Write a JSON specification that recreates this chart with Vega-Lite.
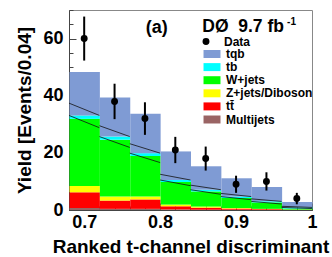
{
 "$schema": "https://vega.github.io/schema/vega-lite/v6.json",
 "width": 243, "height": 200,
 "autosize": "none",
 "padding": {"left": 69, "top": 10, "right": 20, "bottom": 47},
 "background": "white",
 "config": {
  "view": {"stroke": "#888", "strokeWidth": 1},
  "font": "Liberation Sans",
  "axis": {"labelFont": "Liberation Sans", "labelFontWeight": "bold", "labelFontSize": 18, "labelColor": "black",
           "titleFont": "Liberation Sans", "titleFontWeight": "bold", "titleFontSize": 19, "titleColor": "black",
           "grid": false, "domainColor": "#444", "tickColor": "#444", "labelFlush": false}
 },
 "datasets": {
  "bkg": [
   {"x0": 0.68, "x1": 0.72, "process": "Multijets", "n": 0.7},
   {"x0": 0.68, "x1": 0.72, "process": "tt\u0304", "n": 5.5},
   {"x0": 0.68, "x1": 0.72, "process": "Z+jets/Diboson", "n": 2.2},
   {"x0": 0.68, "x1": 0.72, "process": "W+jets", "n": 23.5},
   {"x0": 0.68, "x1": 0.72, "process": "tb", "n": 1.2},
   {"x0": 0.68, "x1": 0.72, "process": "tqb", "n": 15.2},
   {"x0": 0.72, "x1": 0.76, "process": "Multijets", "n": 0.4},
   {"x0": 0.72, "x1": 0.76, "process": "tt\u0304", "n": 2.9},
   {"x0": 0.72, "x1": 0.76, "process": "Z+jets/Diboson", "n": 1.4},
   {"x0": 0.72, "x1": 0.76, "process": "W+jets", "n": 19.9},
   {"x0": 0.72, "x1": 0.76, "process": "tb", "n": 1.1},
   {"x0": 0.72, "x1": 0.76, "process": "tqb", "n": 13.7},
   {"x0": 0.76, "x1": 0.80, "process": "Multijets", "n": 0.4},
   {"x0": 0.76, "x1": 0.80, "process": "tt\u0304", "n": 3.3},
   {"x0": 0.76, "x1": 0.80, "process": "Z+jets/Diboson", "n": 1.0},
   {"x0": 0.76, "x1": 0.80, "process": "W+jets", "n": 14.2},
   {"x0": 0.76, "x1": 0.80, "process": "tb", "n": 1.0},
   {"x0": 0.76, "x1": 0.80, "process": "tqb", "n": 13.8},
   {"x0": 0.80, "x1": 0.84, "process": "Multijets", "n": 0.2},
   {"x0": 0.80, "x1": 0.84, "process": "tt\u0304", "n": 1.1},
   {"x0": 0.80, "x1": 0.84, "process": "Z+jets/Diboson", "n": 0.6},
   {"x0": 0.80, "x1": 0.84, "process": "W+jets", "n": 7.9},
   {"x0": 0.80, "x1": 0.84, "process": "tb", "n": 0.7},
   {"x0": 0.80, "x1": 0.84, "process": "tqb", "n": 10.0},
   {"x0": 0.84, "x1": 0.88, "process": "Multijets", "n": 0.1},
   {"x0": 0.84, "x1": 0.88, "process": "tt\u0304", "n": 0.7},
   {"x0": 0.84, "x1": 0.88, "process": "Z+jets/Diboson", "n": 0.4},
   {"x0": 0.84, "x1": 0.88, "process": "W+jets", "n": 5.3},
   {"x0": 0.84, "x1": 0.88, "process": "tb", "n": 0.6},
   {"x0": 0.84, "x1": 0.88, "process": "tqb", "n": 8.2},
   {"x0": 0.88, "x1": 0.92, "process": "Multijets", "n": 0.1},
   {"x0": 0.88, "x1": 0.92, "process": "tt\u0304", "n": 0.4},
   {"x0": 0.88, "x1": 0.92, "process": "Z+jets/Diboson", "n": 0.2},
   {"x0": 0.88, "x1": 0.92, "process": "W+jets", "n": 3.5},
   {"x0": 0.88, "x1": 0.92, "process": "tb", "n": 0.5},
   {"x0": 0.88, "x1": 0.92, "process": "tqb", "n": 6.4},
   {"x0": 0.92, "x1": 0.96, "process": "Multijets", "n": 0.05},
   {"x0": 0.92, "x1": 0.96, "process": "tt\u0304", "n": 0.25},
   {"x0": 0.92, "x1": 0.96, "process": "Z+jets/Diboson", "n": 0.1},
   {"x0": 0.92, "x1": 0.96, "process": "W+jets", "n": 2.25},
   {"x0": 0.92, "x1": 0.96, "process": "tb", "n": 0.4},
   {"x0": 0.92, "x1": 0.96, "process": "tqb", "n": 5.0},
   {"x0": 0.96, "x1": 1.0, "process": "Multijets", "n": 0.02},
   {"x0": 0.96, "x1": 1.0, "process": "tt\u0304", "n": 0.08},
   {"x0": 0.96, "x1": 1.0, "process": "Z+jets/Diboson", "n": 0.05},
   {"x0": 0.96, "x1": 1.0, "process": "W+jets", "n": 0.35},
   {"x0": 0.96, "x1": 1.0, "process": "tb", "n": 0.4},
   {"x0": 0.96, "x1": 1.0, "process": "tqb", "n": 1.9}
  ],
  "band": [
   {"x0": 0.68, "x1": 0.72, "c": 33.1, "hi": 37.4, "lo": 28.8},
   {"x0": 0.72, "x1": 0.76, "c": 25.7, "hi": 29.5, "lo": 21.9},
   {"x0": 0.76, "x1": 0.80, "c": 19.9, "hi": 23.2, "lo": 16.6},
   {"x0": 0.80, "x1": 0.84, "c": 10.5, "hi": 12.5, "lo": 8.5},
   {"x0": 0.84, "x1": 0.88, "c": 7.1, "hi": 8.7, "lo": 5.5},
   {"x0": 0.88, "x1": 0.92, "c": 4.7, "hi": 5.8, "lo": 3.6},
   {"x0": 0.92, "x1": 0.96, "c": 3.0, "hi": 3.9, "lo": 2.1},
   {"x0": 0.96, "x1": 1.0, "c": 0.9, "hi": 1.3, "lo": 0.5}
  ],
  "obs": [
   {"xc": 0.70, "n": 60, "lo": 52.3, "hi": 67.7},
   {"xc": 0.74, "n": 38, "lo": 31.8, "hi": 44.2},
   {"xc": 0.78, "n": 32, "lo": 26.3, "hi": 37.7},
   {"xc": 0.82, "n": 21, "lo": 16.4, "hi": 25.6},
   {"xc": 0.86, "n": 18, "lo": 13.8, "hi": 22.2},
   {"xc": 0.90, "n": 9, "lo": 6.0, "hi": 12.0},
   {"xc": 0.94, "n": 10, "lo": 6.8, "hi": 13.2},
   {"xc": 0.98, "n": 4, "lo": 2.0, "hi": 6.0}
  ]
 },
 "resolve": {"axis": {"x": "independent", "y": "independent"}},
 "layer": [
  {
   "data": {"name": "bkg"},
   "transform": [{"calculate": "indexof(['Multijets','tt\u0304','Z+jets/Diboson','W+jets','tb','tqb'], datum.process)", "as": "k"}],
   "mark": {"type": "bar", "binSpacing": 0, "strokeWidth": 0},
   "encoding": {
    "x": {"field": "x0", "type": "quantitative", "bin": "binned",
          "scale": {"domain": [0.68, 1.0], "nice": false, "zero": false},
          "axis": {"orient": "bottom", "values": [0.7, 0.8, 0.9, 1.0], "format": "~g", "tickSize": -7, "labelPadding": 10,
                   "title": "Ranked t-channel discriminant", "titlePadding": 6}},
    "x2": {"field": "x1"},
    "y": {"field": "n", "type": "quantitative", "stack": "zero",
          "scale": {"domain": [0, 70], "nice": false},
          "axis": {"orient": "left", "values": [0, 20, 40, 60], "tickSize": -7, "labelPadding": 13,
                   "title": "Yield [Events/0.04]", "titlePadding": 8}},
    "color": {"field": "process", "type": "nominal",
              "scale": {"domain": ["tqb", "tb", "W+jets", "Z+jets/Diboson", "tt\u0304", "Multijets"],
                        "range": ["#7f9bd4", "#00ffff", "#00ff00", "#ffff00", "#ff0000", "#9a6464"]},
              "legend": {"orient": "none", "legendX": 137, "legendY": 38, "title": null, "padding": 0,
                         "symbolType": "M-2,-0.94h4v1.88h-4z", "symbolSize": 72, "symbolStrokeWidth": 0,
                         "labelFont": "Liberation Sans", "labelFontWeight": "bold", "labelFontSize": 12, "labelColor": "black",
                         "labelOffset": 8, "rowPadding": 1.1}},
    "order": {"field": "k", "type": "quantitative"}
   }
  },
  {
   "data": {"name": "band"},
   "mark": {"type": "rule", "color": "#111", "strokeWidth": 0.8},
   "encoding": {
    "x": {"field": "x0", "type": "quantitative", "axis": null}, "x2": {"field": "x1"},
    "y": {"field": "hi", "type": "quantitative", "axis": null}, "y2": {"field": "c"}
   }
  },
  {
   "data": {"name": "band"},
   "mark": {"type": "rule", "color": "#111", "strokeWidth": 0.8},
   "encoding": {
    "x": {"field": "x0", "type": "quantitative", "axis": null}, "x2": {"field": "x1"},
    "y": {"field": "c", "type": "quantitative", "axis": null}, "y2": {"field": "lo"}
   }
  },
  {
   "data": {"name": "obs"},
   "mark": {"type": "rule", "color": "black", "strokeWidth": 2},
   "encoding": {
    "x": {"field": "xc", "type": "quantitative",
          "axis": {"orient": "bottom", "values": [0.68, 0.7, 0.72, 0.74, 0.76, 0.78, 0.8, 0.82, 0.84, 0.86, 0.88, 0.9, 0.92, 0.94, 0.96, 0.98, 1.0],
                   "labels": false, "domain": false, "tickSize": -4, "title": null}},
    "y": {"field": "lo", "type": "quantitative",
          "axis": {"orient": "left", "values": [0, 5, 10, 15, 20, 25, 30, 35, 40, 45, 50, 55, 60, 65, 70],
                   "labels": false, "domain": false, "tickSize": -4, "title": null}},
    "y2": {"field": "hi"}
   }
  },
  {
   "data": {"name": "obs"},
   "mark": {"type": "point", "filled": true, "color": "black", "opacity": 1, "size": 48},
   "encoding": {
    "x": {"field": "xc", "type": "quantitative", "axis": null},
    "y": {"field": "n", "type": "quantitative", "axis": null},
    "shape": {"datum": "Data", "scale": {"range": ["circle"]},
              "legend": {"orient": "none", "legendX": 131, "legendY": 25.5, "title": null, "padding": 0,
                         "symbolFillColor": "black", "symbolStrokeColor": "black", "symbolSize": 48,
                         "labelFont": "Liberation Sans", "labelFontWeight": "bold", "labelFontSize": 12, "labelColor": "black",
                         "labelOffset": 12}}
   }
  },
  {
   "data": {"values": [{}]},
   "mark": {"type": "text", "text": "(a)", "font": "Liberation Sans", "fontWeight": "bold", "fontSize": 18, "align": "center", "baseline": "alphabetic"},
   "encoding": {
    "x": {"datum": 0.7955, "type": "quantitative", "axis": null},
    "y": {"datum": 61.9, "type": "quantitative", "axis": null}
   }
  },
  {
   "data": {"values": [{}]},
   "mark": {"type": "text", "text": "D\u00d8\u00a0\u00a09.7 fb", "font": "Liberation Sans", "fontWeight": "bold", "fontSize": 17.5, "align": "left", "baseline": "alphabetic"},
   "encoding": {
    "x": {"datum": 0.8555, "type": "quantitative", "axis": null},
    "y": {"datum": 62.3, "type": "quantitative", "axis": null}
   }
  },
  {
   "data": {"values": [{}]},
   "mark": {"type": "text", "text": "-1", "font": "Liberation Sans", "fontWeight": "bold", "fontSize": 10, "align": "left", "baseline": "alphabetic"},
   "encoding": {
    "x": {"datum": 0.9672, "type": "quantitative", "axis": null},
    "y": {"datum": 64.8, "type": "quantitative", "axis": null}
   }
  }
 ]
}
